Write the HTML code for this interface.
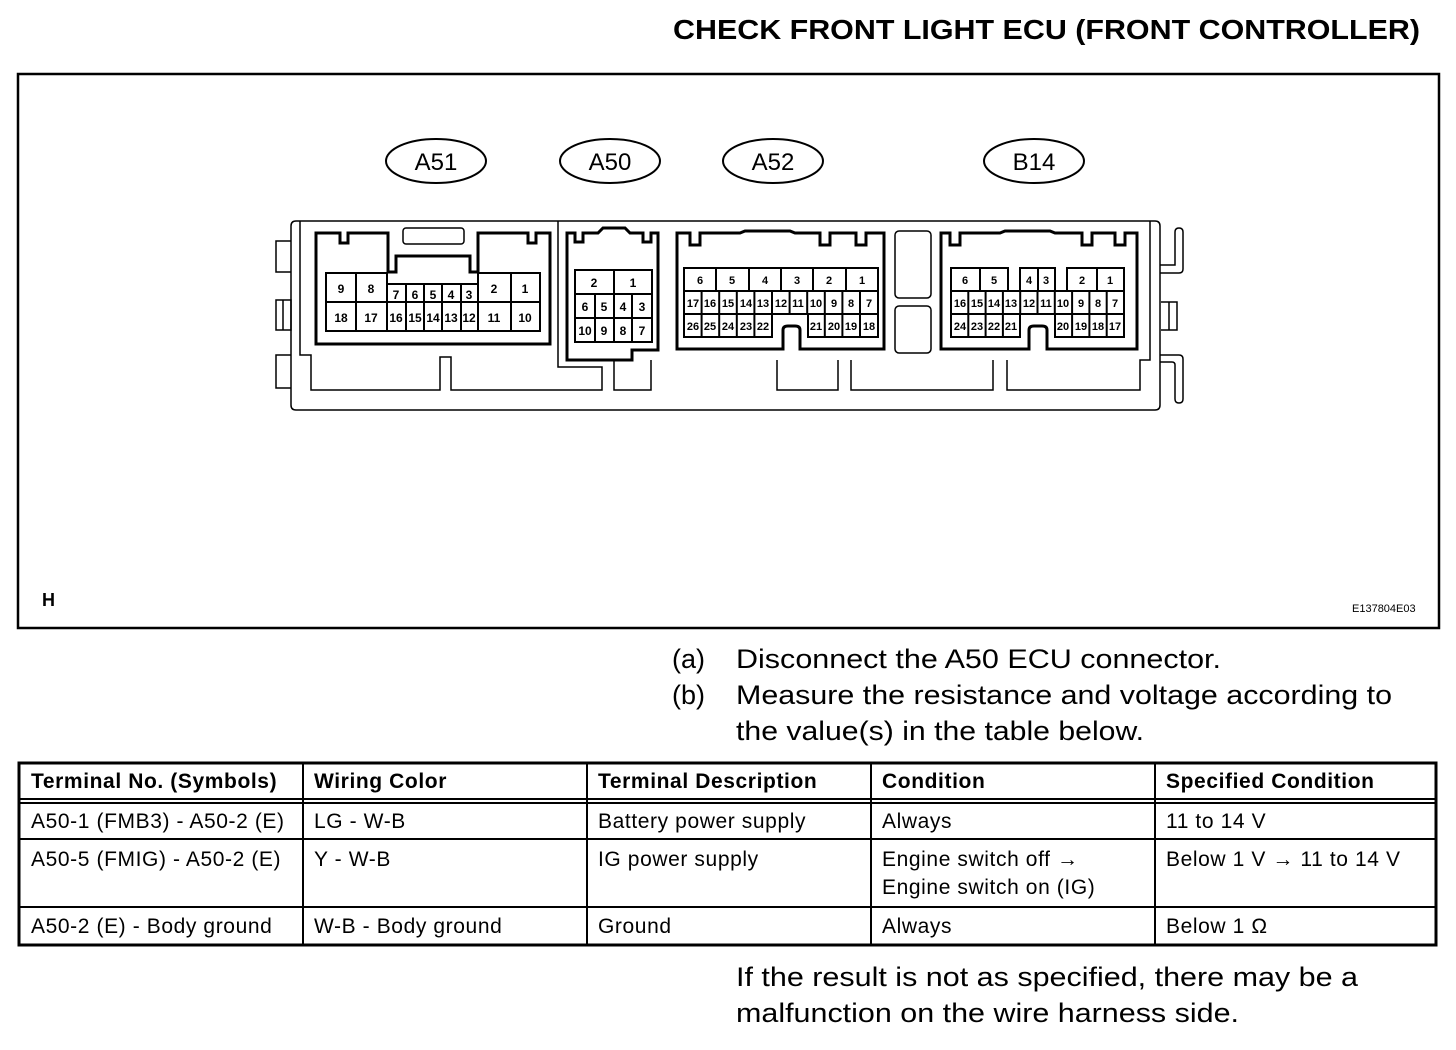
<!DOCTYPE html>
<html><head><meta charset="utf-8"><style>
html,body{margin:0;padding:0;background:#fff}
svg{display:block}
text{font-family:"Liberation Sans",Arial,sans-serif;fill:#000}
.t{font-size:27px}
.td{font-size:21px;letter-spacing:0.6px}
.th{font-size:21px;font-weight:bold;letter-spacing:0.6px}
.p{font-size:12px;font-weight:bold;text-anchor:middle}
.ps{font-size:11px;font-weight:bold;text-anchor:middle}
</style></head><body>
<svg width="1456" height="1050" viewBox="0 0 1456 1050" xmlns="http://www.w3.org/2000/svg">
<text x="673" y="39" style="font-size:28px;font-weight:bold" textLength="747" lengthAdjust="spacingAndGlyphs">CHECK FRONT LIGHT ECU (FRONT CONTROLLER)</text>
<rect x="18" y="74" width="1421" height="554" fill="none" stroke="#000" stroke-width="2.5"/>
<text x="42" y="606" style="font-size:18px;font-weight:bold">H</text>
<text x="1352" y="612" style="font-size:11px">E137804E03</text>

<g fill="none" stroke="#000" stroke-width="2">
<ellipse cx="436" cy="161" rx="50" ry="22"/>
<ellipse cx="610" cy="161" rx="50" ry="22"/>
<ellipse cx="773" cy="161" rx="50" ry="22"/>
<ellipse cx="1034" cy="161" rx="50" ry="22"/>
</g>
<g style="font-size:24px" text-anchor="middle">
<text x="436" y="170">A51</text><text x="610" y="170">A50</text><text x="773" y="170">A52</text><text x="1034" y="170">B14</text>
</g>

<g fill="none" stroke="#000" stroke-width="1.5">
<path d="M296,221 H1155 Q1160,221 1160,226 V405 Q1160,410 1155,410 H296 Q291,410 291,405 V226 Q291,221 296,221 Z"/>
<path d="M300,221 V355 H311 V390 H440 V357 H451 V390 H602 V367 H558 V221"/>
<path d="M614,360 V390 H651 V360"/>
<path d="M777,360 V390 H838 V360"/>
<path d="M851,360 V390 H993 V360"/>
<path d="M1007,360 V390 H1140 V360 H1150 V221"/>
<path d="M291,241 H276 V272 H291"/><path d="M291,355 H276 V388 H291"/>
<path d="M276,300 H291 V330 H276 Z"/><path d="M283,300 V330"/>
<path d="M1160,265 H1175 V232 Q1175,228 1179,228 Q1183,228 1183,232 V269 Q1183,273 1179,273 H1160"/>
<path d="M1160,355 H1179 Q1183,355 1183,359 V399 Q1183,403 1179,403 Q1175,403 1175,399 V365 Q1175,362 1172,362 H1160"/>
<path d="M1161,302 H1177 V330 H1161"/><path d="M1169,302 V330"/>
<rect x="895" y="231" width="36" height="67" rx="4"/>
<rect x="895" y="306" width="36" height="47" rx="4"/>
<rect x="403" y="228" width="61" height="16" rx="3"/>
</g>
<g fill="none" stroke="#000" stroke-width="3">
<path d="M316,233 H340 V243 H348 V233 H388 V272 H396 V256 H470 V272 H478 V233 H528 V243 H536 V233 H550 V344 H316 Z"/>
<path d="M567,233 H575 V242 H583 V233 H598 L603,228 H625 L630,233 H643 V242 H651 V233 H658 V350 H632 V360 H567 Z"/>
<path d="M677,233 H690 V245 H700 V233 H740 L745,231 H790 L795,233 H820 V245 H830 V233 H856 V245 H866 V233 H884 V349 H800 V330 Q800,326 795,326 H788 Q783,326 783,330 V349 H677 Z"/>
<path d="M941,233 H950 V245 H960 V233 H1000 L1005,231 H1050 L1055,233 H1082 V245 H1092 V233 H1115 V245 H1125 V233 H1137 V349 H1047 V330 Q1047,326 1042,326 H1034 Q1029,326 1029,330 V349 H941 Z"/>
</g>

<g fill="#fff" stroke="#000" stroke-width="2">
<rect x="326" y="273" width="30" height="29"/><rect x="356" y="273" width="31" height="29"/>
<rect x="326" y="302" width="30" height="29"/><rect x="356" y="302" width="31" height="29"/>
<rect x="478" y="273" width="33" height="29"/><rect x="511" y="273" width="29" height="29"/>
<rect x="478" y="302" width="33" height="29"/><rect x="511" y="302" width="29" height="29"/>
<rect x="387" y="284" width="19" height="18"/><rect x="406" y="284" width="18" height="18"/><rect x="424" y="284" width="18" height="18"/><rect x="442" y="284" width="19" height="18"/><rect x="461" y="284" width="17" height="18"/>
<rect x="387" y="302" width="19" height="29"/><rect x="406" y="302" width="18" height="29"/><rect x="424" y="302" width="18" height="29"/><rect x="442" y="302" width="19" height="29"/><rect x="461" y="302" width="17" height="29"/>
<rect x="575" y="270" width="39" height="24"/><rect x="614" y="270" width="38" height="24"/>
<rect x="575" y="294" width="20" height="24"/><rect x="595" y="294" width="19" height="24"/><rect x="614" y="294" width="18" height="24"/><rect x="632" y="294" width="20" height="24"/>
<rect x="575" y="318" width="20" height="24"/><rect x="595" y="318" width="19" height="24"/><rect x="614" y="318" width="18" height="24"/><rect x="632" y="318" width="20" height="24"/>
</g>
<g class="p">
<text x="341" y="293">9</text><text x="371" y="293">8</text><text x="494" y="293">2</text><text x="525" y="293">1</text>
<text x="341" y="322">18</text><text x="371" y="322">17</text><text x="494" y="322">11</text><text x="525" y="322">10</text>
<text x="396" y="299">7</text><text x="415" y="299">6</text><text x="433" y="299">5</text><text x="451" y="299">4</text><text x="469" y="299">3</text>
<text x="396" y="322">16</text><text x="415" y="322">15</text><text x="433" y="322">14</text><text x="451" y="322">13</text><text x="469" y="322">12</text>
<text x="594" y="287">2</text><text x="633" y="287">1</text>
<text x="585" y="311">6</text><text x="604" y="311">5</text><text x="623" y="311">4</text><text x="642" y="311">3</text>
<text x="585" y="335">10</text><text x="604" y="335">9</text><text x="623" y="335">8</text><text x="642" y="335">7</text>
</g>

<g fill="#fff" stroke="#000" stroke-width="2">
<rect x="684" y="268" width="194" height="23"/>
<rect x="684" y="291" width="194" height="23"/>
<rect x="684" y="314" width="88" height="23"/>
<rect x="808" y="314" width="70" height="23"/>
<path d="M716,268V291M749,268V291M781,268V291M813,268V291M846,268V291"/>
<path d="M701.6,291V337M719.2,291V337M736.8,291V337M754.4,291V337M772,291V314M789.6,291V314M807.2,291V314M824.8,291V337M842.4,291V337M860,291V337"/>
<rect x="951" y="268" width="57" height="23"/><path d="M980,268V291"/>
<rect x="1020" y="268" width="35" height="23"/><path d="M1038,268V291"/>
<rect x="1067" y="268" width="57" height="23"/><path d="M1097,268V291"/>
<rect x="951" y="291" width="173" height="23"/>
<rect x="951" y="314" width="69" height="23"/>
<rect x="1055" y="314" width="69" height="23"/>
<path d="M968.3,291V337M985.6,291V337M1002.9,291V337M1020.2,291V314M1037.5,291V314M1054.8,291V314M1072.1,291V337M1089.4,291V337M1106.7,291V337"/>
</g>
<g class="ps">
<text x="700" y="284">6</text><text x="732" y="284">5</text><text x="765" y="284">4</text><text x="797" y="284">3</text><text x="829" y="284">2</text><text x="862" y="284">1</text>
<text x="693" y="307">17</text><text x="710" y="307">16</text><text x="728" y="307">15</text><text x="746" y="307">14</text><text x="763" y="307">13</text><text x="781" y="307">12</text><text x="798" y="307">11</text><text x="816" y="307">10</text><text x="834" y="307">9</text><text x="851" y="307">8</text><text x="869" y="307">7</text>
<text x="693" y="330">26</text><text x="710" y="330">25</text><text x="728" y="330">24</text><text x="746" y="330">23</text><text x="763" y="330">22</text>
<text x="816" y="330">21</text><text x="834" y="330">20</text><text x="851" y="330">19</text><text x="869" y="330">18</text>
<text x="965" y="284">6</text><text x="994" y="284">5</text><text x="1029" y="284">4</text><text x="1046" y="284">3</text><text x="1082" y="284">2</text><text x="1110" y="284">1</text>
<text x="960" y="307">16</text><text x="977" y="307">15</text><text x="994" y="307">14</text><text x="1011" y="307">13</text><text x="1029" y="307">12</text><text x="1046" y="307">11</text><text x="1063" y="307">10</text><text x="1081" y="307">9</text><text x="1098" y="307">8</text><text x="1115" y="307">7</text>
<text x="960" y="330">24</text><text x="977" y="330">23</text><text x="994" y="330">22</text><text x="1011" y="330">21</text>
<text x="1063" y="330">20</text><text x="1081" y="330">19</text><text x="1098" y="330">18</text><text x="1115" y="330">17</text>
</g>

<text class="t" x="672" y="668">(a)</text><text class="t" x="736" y="668" textLength="485" lengthAdjust="spacingAndGlyphs">Disconnect the A50 ECU connector.</text>
<text class="t" x="672" y="704">(b)</text><text class="t" x="736" y="704" textLength="656" lengthAdjust="spacingAndGlyphs">Measure the resistance and voltage according to</text>
<text class="t" x="736" y="740" textLength="408" lengthAdjust="spacingAndGlyphs">the value(s) in the table below.</text>

<g fill="none" stroke="#000">
<rect x="19" y="763" width="1417" height="182" stroke-width="3"/>
<path d="M19,799H1436M19,803H1436" stroke-width="2"/>
<path d="M19,839H1436M19,907H1436" stroke-width="2"/>
<path d="M303,763V945M587,763V945M871,763V945M1155,763V945" stroke-width="2"/>
</g>
<g class="th">
<text x="31" y="788">Terminal No. (Symbols)</text><text x="314" y="788">Wiring Color</text><text x="598" y="788">Terminal Description</text><text x="882" y="788">Condition</text><text x="1166" y="788">Specified Condition</text>
</g>
<g class="td">
<text x="31" y="828">A50-1 (FMB3) - A50-2 (E)</text><text x="314" y="828">LG - W-B</text><text x="598" y="828">Battery power supply</text><text x="882" y="828">Always</text><text x="1166" y="828">11 to 14 V</text>
<text x="31" y="866">A50-5 (FMIG) - A50-2 (E)</text><text x="314" y="866">Y - W-B</text><text x="598" y="866">IG power supply</text><text x="882" y="866">Engine switch off →</text><text x="882" y="894">Engine switch on (IG)</text><text x="1166" y="866">Below 1 V → 11 to 14 V</text>
<text x="31" y="933">A50-2 (E) - Body ground</text><text x="314" y="933">W-B - Body ground</text><text x="598" y="933">Ground</text><text x="882" y="933">Always</text><text x="1166" y="933">Below 1 Ω</text>
</g>

<text class="t" x="736" y="986" textLength="622" lengthAdjust="spacingAndGlyphs">If the result is not as specified, there may be a</text>
<text class="t" x="736" y="1022" textLength="503" lengthAdjust="spacingAndGlyphs">malfunction on the wire harness side.</text>
</svg>
</body></html>
